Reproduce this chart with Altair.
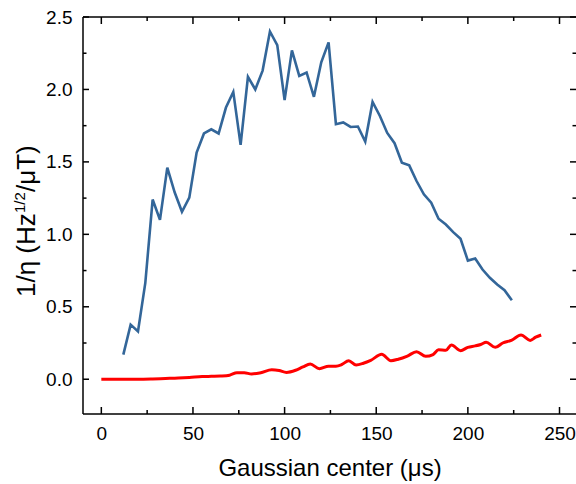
import altair as alt
import pandas as pd

# ---------------- data ----------------
blue_x = [12, 16, 20, 24, 28, 32, 36, 40, 44, 48, 52, 56, 60, 64, 68, 72,
          76, 80, 84, 88, 92, 96, 100, 104, 108, 112, 116, 120, 124, 128, 132, 136, 140, 144,
          148, 152, 156, 160, 164, 168, 172, 176, 180, 184, 188, 192, 196, 200, 204, 208,
          212, 216, 220, 224]
blue_y = [0.17, 0.377, 0.33, 0.665, 1.24, 1.10, 1.46, 1.29, 1.156, 1.253, 1.564, 1.696,
          1.725, 1.696, 1.875, 1.983, 1.617, 2.087, 2.00, 2.13, 2.40, 2.306, 1.926, 2.27,
          2.094, 2.117, 1.949, 2.187, 2.325, 1.76, 1.772, 1.741, 1.744, 1.64, 1.914, 1.817,
          1.70, 1.629, 1.495, 1.476, 1.368, 1.276, 1.218, 1.108, 1.068, 1.015, 0.969, 0.819,
          0.833, 0.757, 0.70, 0.654, 0.614, 0.545]

red_x = [0, 10, 20, 28, 35, 42, 48, 55, 60, 65, 70, 74, 78, 82, 87, 93, 97, 101, 106,
         110, 114, 119, 124, 128, 131, 135, 139, 143, 147, 153, 158, 162, 167, 172, 177,
         181, 184, 188, 191, 196, 200, 204, 207, 210, 215, 219, 224, 229, 234, 237, 240]
red_y = [0.0, 0.0, 0.0, 0.002, 0.005, 0.008, 0.012, 0.018, 0.02, 0.022, 0.028, 0.045,
         0.045, 0.036, 0.045, 0.065, 0.06, 0.047, 0.062, 0.085, 0.105, 0.073, 0.09, 0.09,
         0.1, 0.128, 0.098, 0.11, 0.13, 0.172, 0.128, 0.138, 0.16, 0.19, 0.158, 0.17,
         0.203, 0.2, 0.237, 0.197, 0.22, 0.23, 0.24, 0.255, 0.22, 0.25, 0.27, 0.305,
         0.268, 0.29, 0.305]

x_major = [0, 50, 100, 150, 200, 250]
x_minor = [25, 75, 125, 175, 225]
y_major = [0.0, 0.5, 1.0, 1.5, 2.0, 2.5]
y_minor = [0.25, 0.75, 1.25, 1.75, 2.25]

x_title = "Gaussian center (μs)"
y_title_parts = ["1/η (Hz", "1/2", "/μT)"]

# ---------------- layout ----------------
W, H = 493, 397
FONT = "Liberation Sans"
xs = alt.Scale(domain=[-10, 259], nice=False, zero=False)
ys = alt.Scale(domain=[-0.24, 2.5], nice=False, zero=False)

x_axis = alt.Axis(values=x_major, title=x_title, ticks=False, domain=False, grid=False,
                  labelFontSize=19, labelFont=FONT, labelColor="black", labelPadding=10,
                  titleFontSize=24, titleFont=FONT, titleFontWeight="normal",
                  titleColor="black", titlePadding=13)
y_axis = alt.Axis(values=y_major, format=".1f", title="", ticks=False, domain=False,
                  grid=False, labelFontSize=19, labelFont=FONT, labelColor="black",
                  labelPadding=11)

blue_df = pd.DataFrame({"x": blue_x, "y": blue_y})
red_df = pd.DataFrame({"x": red_x, "y": red_y})

blue = alt.Chart(blue_df).mark_line(color="#336699", strokeWidth=2.6, clip=True).encode(
    x=alt.X("x:Q", scale=xs, axis=x_axis),
    y=alt.Y("y:Q", scale=ys, axis=y_axis),
)

red = alt.Chart(red_df).mark_line(color="#ff0000", strokeWidth=3, interpolate="monotone",
                                  clip=True).encode(
    x=alt.X("x:Q", scale=xs, axis=x_axis), y=alt.Y("y:Q", scale=ys, axis=y_axis))

one = pd.DataFrame({"a": [0]})
frame_style = dict(color="black", strokeWidth=1.5)
frame = alt.layer(
    alt.Chart(one).mark_rule(**frame_style).encode(x=alt.value(0), x2=alt.value(W), y=alt.value(0)),
    alt.Chart(one).mark_rule(**frame_style).encode(x=alt.value(0), x2=alt.value(W), y=alt.value(H)),
    alt.Chart(one).mark_rule(**frame_style).encode(x=alt.value(0), y=alt.value(0), y2=alt.value(H)),
)

def xticks(vals, length):
    df = pd.DataFrame({"x": vals})
    bottom = alt.Chart(df).mark_rule(**frame_style).encode(
        x=alt.X("x:Q", scale=xs, axis=x_axis), y=alt.value(H), y2=alt.value(H - length))
    top = alt.Chart(df).mark_rule(**frame_style).encode(
        x=alt.X("x:Q", scale=xs, axis=x_axis), y=alt.value(0), y2=alt.value(length))
    return [bottom, top]

def yticks(vals, length):
    df = pd.DataFrame({"y": vals})
    left = alt.Chart(df).mark_rule(**frame_style).encode(
        y=alt.Y("y:Q", scale=ys, axis=y_axis), x=alt.value(0), x2=alt.value(length))
    right = alt.Chart(df).mark_rule(**frame_style).encode(
        y=alt.Y("y:Q", scale=ys, axis=y_axis), x=alt.value(W), x2=alt.value(W - length))
    return [left, right]

ticks = xticks(x_major, 7) + xticks(x_minor, 4) + yticks(y_major, 6) + yticks(y_minor, 3.5)

t1 = alt.Chart(one).mark_text(text=y_title_parts[0], angle=270, align="left",
                              baseline="alphabetic", font=FONT, fontSize=26, color="black").encode(
    x=alt.value(-48), y=alt.value(280))
t2 = alt.Chart(one).mark_text(text=y_title_parts[1], angle=270, align="left",
                              baseline="alphabetic", font=FONT, fontSize=15, color="black").encode(
    x=alt.value(-58), y=alt.value(196))
t3 = alt.Chart(one).mark_text(text=y_title_parts[2], angle=270, align="left",
                              baseline="alphabetic", font=FONT, fontSize=26, color="black").encode(
    x=alt.value(-48), y=alt.value(175))

chart = alt.layer(blue, red, frame, *ticks, t1, t2, t3).properties(
    width=W, height=H,
    padding={"left": 83, "top": 17, "right": 0, "bottom": 70},
    autosize=alt.AutoSizeParams(type="none"),
    background="white",
).configure_view(stroke=None)

chart.save("out.html", embed_options={"renderer": "svg", "actions": False})
